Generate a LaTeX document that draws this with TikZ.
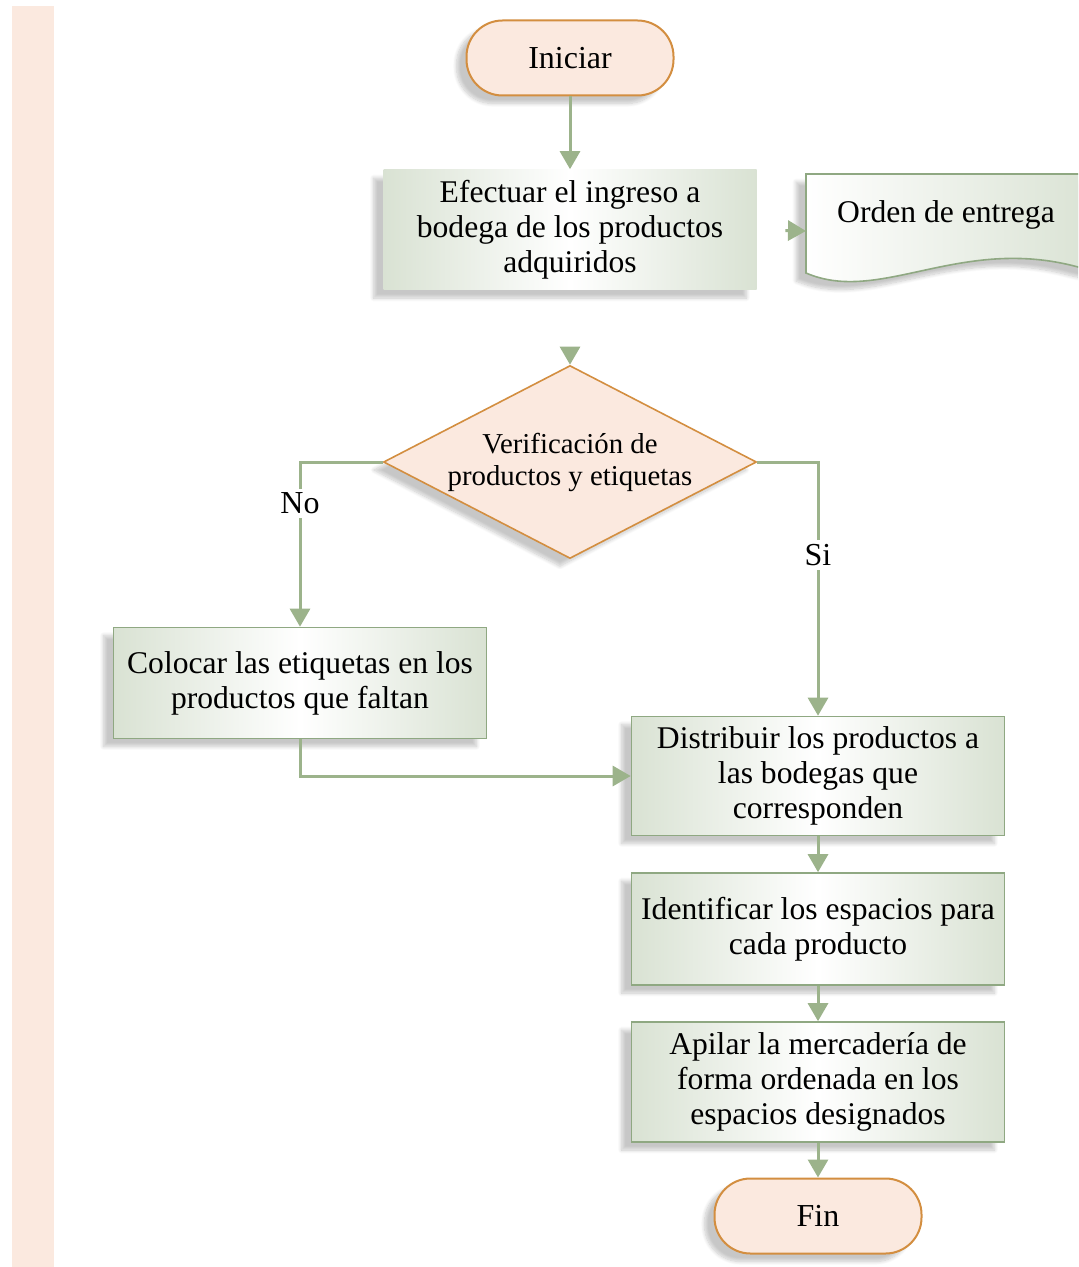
\documentclass[tikz,border=0pt]{standalone}
\usepackage{fontspec}
\setmainfont{Liberation Serif}
\usetikzlibrary{arrows.meta,shapes.geometric,shadows.blur,positioning}
\definecolor{peach}{HTML}{FBE9DF}
\definecolor{orangeline}{HTML}{D38E40}
\definecolor{sage}{HTML}{9CB38B}
\definecolor{sagefill}{HTML}{D9E2D3}
\definecolor{sageline}{HTML}{8FA882}
\tikzset{>={Triangle[width=10pt,length=9pt]}}

\begin{document}
\begin{tikzpicture}[x=0.5pt,y=-0.5pt,
	softshadow/.style={blur shadow={shadow xshift=-5pt,shadow yshift=-4pt,shadow opacity=22,shadow blur steps=10}},
	terminal/.style={draw=orangeline,fill=peach,line width=1pt,rounded corners=18pt,minimum width=103.5pt,minimum height=37.5pt,font=\fontsize{16}{17.5}\selectfont,softshadow},
	process/.style={draw=sageline,line width=0.8pt,left color=sagefill,right color=sagefill,middle color=white,minimum width=186.5pt,inner xsep=1pt,align=center,font=\fontsize{15.8}{17.5}\selectfont,softshadow},
	decision/.style={diamond,draw=orangeline,fill=peach,line width=0.8pt,aspect=1.93,minimum width=186.5pt,minimum height=96.5pt,inner sep=0pt,align=center,font=\fontsize{14.4}{16}\selectfont,softshadow},
	flow/.style={draw=sage,line width=1.5pt,->},
	answer/.style={fill=white,inner sep=2pt,font=\fontsize{16}{17.5}\selectfont}
]
	\useasboundingbox (0,0) rectangle (1078,1267);
	\clip (0,0) rectangle (1078,1267);
	% side band
	\fill[peach] (12,6) rectangle (54,1267);

	% document shape for the delivery order
	\path[draw=sageline,line width=0.8pt,left color=white,right color=sagefill,softshadow]
		(1100,174) -- (806,174) -- (806,273) .. controls (880,305) and (960,235) .. (1078,267) -- (1100,272);
	\node (orden) at (946,215) [font=\fontsize{15.8}{17.5}\selectfont]{Orden de entrega};
	\coordinate (ordenin) at (806,231);

	\node (inicio) at (570,58) [terminal]{Iniciar};
	\node (ingreso) at (570,230) [process,draw=none,minimum height=60pt]{Efectuar el ingreso a\\bodega de los productos\\adquiridos};
	\node (verif) at (570,462) [decision]{Verificación de\\productos y etiquetas};
	\node (colocar) at (300,683) [process,minimum height=55.5pt]{Colocar las etiquetas en los\\productos que faltan};
	\node (distribuir) at (818,776) [process,minimum height=59.5pt]{Distribuir los productos a\\las bodegas que\\corresponden};
	\node (identificar) at (818,929) [process,minimum height=56pt]{Identificar los espacios para\\cada producto};
	\node (apilar) at (818,1082) [process,minimum height=60pt]{Apilar la mercadería de\\forma ordenada en los\\espacios designados};
	\node (fin) at (818,1216) [terminal]{Fin};

	\draw [flow] (inicio) -- (ingreso);
	\draw [flow,shorten <=14pt] (ingreso.east) -- (ordenin);
	\draw [flow,shorten <=29pt] (ingreso) -- (verif);
	\draw [flow] (verif.west) -| (colocar.north) node[answer,pos=0.625] {No};
	\draw [flow] (verif.east) -| (distribuir.north) node[answer,pos=0.683] {Si};
	\draw [flow] (colocar.south) |- (distribuir.west);
	\draw [flow] (distribuir) -- (identificar);
	\draw [flow] (identificar) -- (apilar);
	\draw [flow] (apilar) -- (fin);
\end{tikzpicture}
\end{document}
